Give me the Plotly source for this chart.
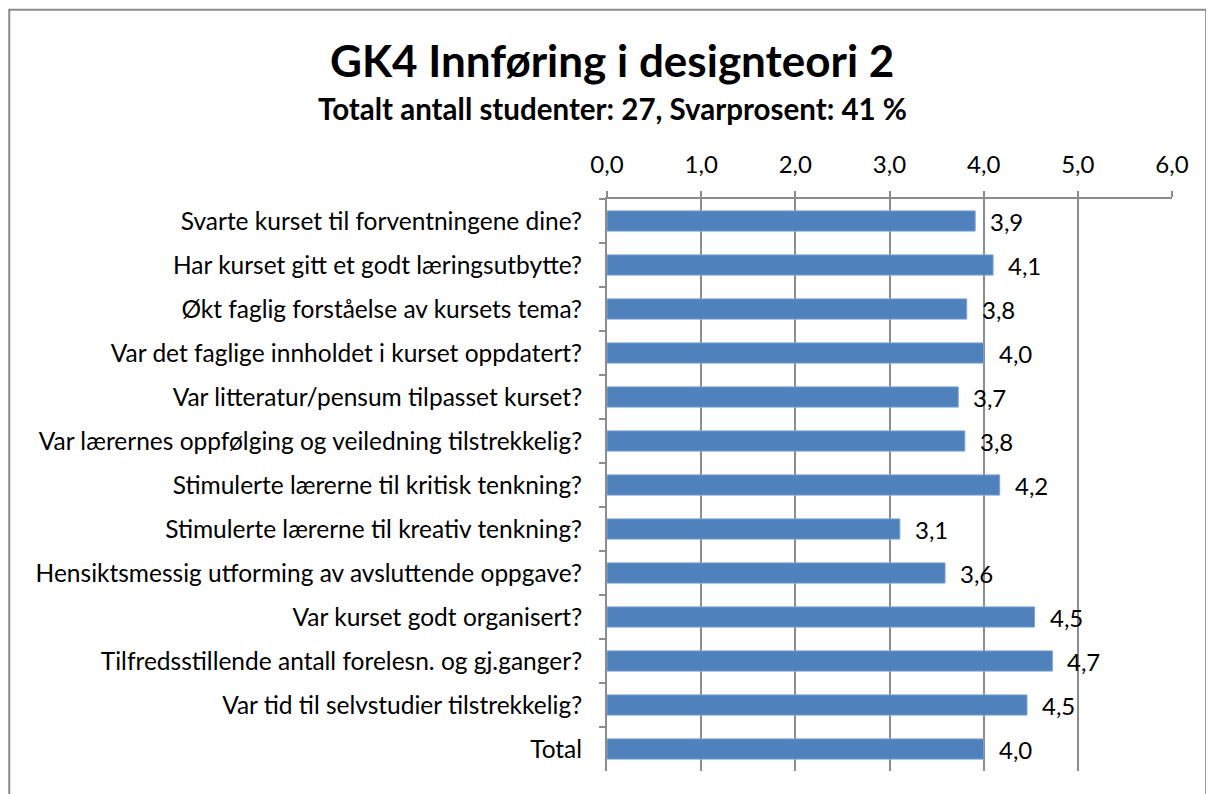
import plotly.graph_objects as go

categories = [
    "Svarte kurset til forventningene dine?",
    "Har kurset gitt et godt læringsutbytte?",
    "Økt faglig forståelse av kursets tema?",
    "Var det faglige innholdet i kurset oppdatert?",
    "Var litteratur/pensum tilpasset kurset?",
    "Var lærernes oppfølging og veiledning tilstrekkelig?",
    "Stimulerte lærerne til kritisk tenkning?",
    "Stimulerte lærerne til kreativ tenkning?",
    "Hensiktsmessig utforming av avsluttende oppgave?",
    "Var kurset godt organisert?",
    "Tilfredsstillende antall forelesn. og gj.ganger?",
    "Var tid til selvstudier tilstrekkelig?",
    "Total",
]
values = [3.91, 4.10, 3.82, 4.00, 3.73, 3.80, 4.17, 3.11, 3.59, 4.54, 4.73, 4.46, 4.00]
tick_values = [0, 1, 2, 3, 4, 5, 6]

title = "GK4 Innføring i designteori 2"
subtitle = "Totalt antall studenter: 27, Svarprosent: 41 %"

FONT = "Lato"
GRID = "#8c8c8c"

fig = go.Figure()
fig.add_trace(go.Bar(
    x=values, y=categories, orientation="h",
    marker=dict(color="#4F81BD", line=dict(color="#7ea3d4", width=1)),
    width=0.46,
    hoverinfo="skip",
))

annotations = []
for c, v in zip(categories, values):
    annotations.append(dict(
        x=v, y=c, xref="x", yref="y", text=f"{v:.1f}".replace(".", ","),
        showarrow=False, xanchor="left", yanchor="middle", xshift=13, yshift=0,
        font=dict(family=FONT, size=24, color="#000"),
    ))

annotations.append(dict(
    x=0.009, y=1.159, xref="paper", yref="paper", text=f"<b>{subtitle}</b>",
    showarrow=False, xanchor="center", yanchor="middle",
    font=dict(family=FONT, size=29.5, color="#000"),
))
annotations.append(dict(
    x=0.009, y=1.243, xref="paper", yref="paper", text=f"<b>{title}</b>",
    showarrow=False, xanchor="center", yanchor="middle",
    font=dict(family=FONT, size=44, color="#000"),
))

fig.update_layout(
    width=1214, height=794,
    margin=dict(l=599, r=50, t=191, b=31, autoexpand=False),
    paper_bgcolor="white", plot_bgcolor="white",
    separators=",.",
    showlegend=False,
    bargap=0.5,
    annotations=annotations,
    font=dict(family=FONT, size=24, color="#000"),
    shapes=[dict(
        type="rect", xref="paper", yref="paper",
        x0=-1.058, x1=1.0605, y0=-0.2, y1=1.331,
        line=dict(color="#8a8a8a", width=2), layer="below",
    )],
)
fig.update_xaxes(
    side="top", range=[0, 6], tickvals=tick_values, tickformat=".1f",
    showgrid=True, gridcolor=GRID, gridwidth=2,
    showline=True, linecolor=GRID, linewidth=2,
    ticks="outside", ticklen=6, tickcolor=GRID, tickwidth=2,
    tickfont=dict(family=FONT, size=24, color="#000"),
    ticklabelstandoff=8,
    zeroline=False, fixedrange=True, automargin=False,
)
fig.update_yaxes(
    autorange="reversed", tickson="boundaries",
    showline=True, linecolor=GRID, linewidth=2,
    ticks="outside", ticklen=6, tickcolor=GRID, tickwidth=2,
    tickfont=dict(family=FONT, size=24.5, color="#000"),
    ticklabelstandoff=18,
    showgrid=False, fixedrange=True, automargin=False,
)

fig.write_html("out.html")
